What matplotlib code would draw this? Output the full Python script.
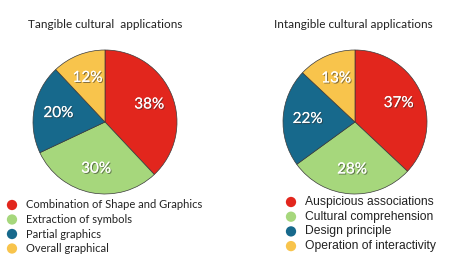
import matplotlib.pyplot as plt
import matplotlib.patheffects as pe

# data
left_title = "Tangible cultural  applications"
left_labels = ["Combination of Shape and Graphics", "Extraction of symbols",
               "Partial graphics", "Overall graphical"]
left_values = [38, 30, 20, 12]

right_title = "Intangible cultural applications"
right_labels = ["Auspicious associations", "Cultural comprehension",
                "Design principle", "Operation of interactivity"]
right_values = [37, 28, 22, 13]

colors = ["#e2261d", "#a6d77c", "#17698c", "#f8c44c"]

W, H = 450, 263
fig = plt.figure(figsize=(W / 100, H / 100), dpi=100)
ax = fig.add_axes([0, 0, 1, 1])

shadow = [pe.withSimplePatchShadow(offset=(0.8, -0.8), shadow_rgbFace="#333333", alpha=0.6), pe.Normal()]


def draw(cx, cy, values, title, tx, labels, lx, ly, dy, lfont, lsize):
    _, _, autotexts = ax.pie(values, colors=colors, startangle=90, counterclock=False,
                             center=(cx, H - cy), radius=72, autopct="%d%%", pctdistance=0.66,
                             wedgeprops=dict(edgecolor="#3a3a3a", linewidth=0.5),
                             frame=True)
    for t in autotexts:
        t.set_color("white")
        t.set_fontsize(11)
        t.set_family("Lato")
        t.set_path_effects(shadow)
    ax.text(tx, H - 25, title, fontsize=8.5, family="Lato", ha="center", va="center", color="#222222")
    for i, (lab, c) in enumerate(zip(labels, colors)):
        y = H - (ly + i * dy)
        ax.scatter([lx], [y], s=55, color=c, edgecolors="none")
        ax.text(lx + 14, y, lab, fontsize=lsize, family=lfont, va="center", color="#222222")


draw(105, 122, left_values, left_title, 105, left_labels, 12, 205, 14.5, "Lato", 8)
draw(355, 122, right_values, right_title, 353, right_labels, 291, 202, 14.7, "Liberation Sans", 8.7)

ax.set_xlim(0, W)
ax.set_ylim(0, H)
ax.set_aspect("equal")
ax.axis("off")
fig.savefig("out.png", dpi=100)
